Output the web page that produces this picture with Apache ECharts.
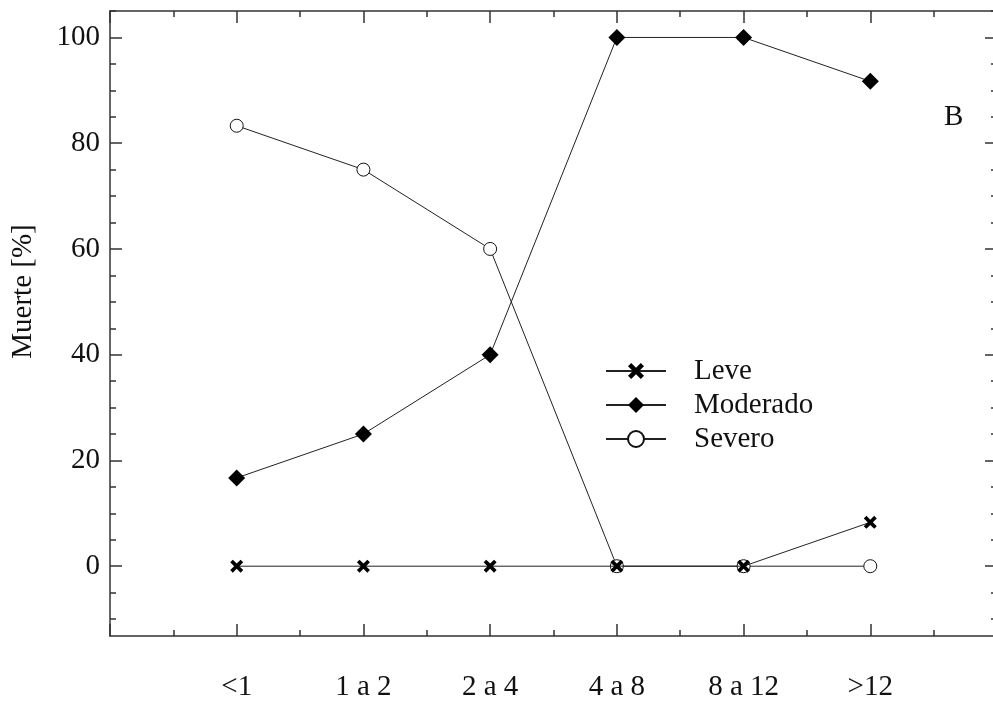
<!DOCTYPE html>
<html>
<head>
<meta charset="utf-8">
<script src="https://cdn.jsdelivr.net/npm/echarts@6/dist/echarts.min.js"></script>
<style>html,body{margin:0;padding:0;background:#fff}#c{width:993px;height:704px}</style>
</head>
<body>
<div id="c"></div>
<script>
const categories = ['<1', '1 a 2', '2 a 4', '4 a 8', '8 a 12', '>12'];
const leve = [0, 0, 0, 0, 0, 8.3];
const moderado = [16.7, 25, 40, 100, 100, 91.7];
const severo = [83.3, 75, 60, 0, 0, 0];
const yMajorTicks = [0, 20, 40, 60, 80, 100];
const yMinorTicks = [-10, -5, 5, 10, 15, 25, 30, 35, 45, 50, 55, 65, 70, 75, 85, 90, 95, 105];

const FONT = 'Liberation Serif';
const AX = '#333';
const crossPath = 'path://M0,2 L2,0 L5,3 L8,0 L10,2 L7,5 L10,8 L8,10 L5,7 L2,10 L0,8 L3,5 Z';

function pts(arr) { return arr.map((v, i) => [i, v]); }

const chart = echarts.init(document.getElementById('c'));
const yRange = { min: -13.2, max: 105 };
function yAx(pos, ticks, len, labels, line) {
  return {
    type: 'value', position: pos, min: yRange.min, max: yRange.max,
    axisLine: { show: line, onZero: false, lineStyle: { color: AX, width: 1.5 } },
    axisTick: { show: true, inside: true, length: len, customValues: ticks, lineStyle: { color: AX, width: 1.5 } },
    axisLabel: labels ? { show: true, customValues: ticks, fontFamily: FONT, fontSize: 29, color: '#111', margin: 10 } : { show: false },
    splitLine: { show: false }
  };
}
const yAxes = [
  Object.assign(yAx('left', yMajorTicks, 12, true, true), {
    name: 'Muerte [%]', nameLocation: 'middle', nameGap: 72, nameRotate: 90,
    nameTextStyle: { fontFamily: FONT, fontSize: 29, color: '#111', padding: [0, 0, 0, 64] }
  }),
  yAx('left', yMinorTicks, 6, false, false),
  yAx('right', yMajorTicks, 12, false, true),
  yAx('right', yMinorTicks, 6, false, false)
];

function xAx(pos, labels) {
  return {
    type: 'value', position: pos, min: -1, max: 6, interval: 1,
    axisLine: { show: true, onZero: false, lineStyle: { color: AX, width: 1.5 } },
    axisTick: { show: true, inside: true, length: 12, lineStyle: { color: AX, width: 1.5 } },
    minorTick: { show: true, splitNumber: 2, length: 6, lineStyle: { color: AX, width: 1.5 } },
    axisLabel: labels ? {
      show: true, fontFamily: FONT, fontSize: 29, color: '#111', margin: 37,
      formatter: v => (v >= 0 && v < categories.length && Number.isInteger(v)) ? categories[v] : ''
    } : { show: false },
    splitLine: { show: false }, minorSplitLine: { show: false }
  };
}

const lineStyle = { color: '#222', width: 1 };
chart.setOption({
  animation: false,
  backgroundColor: '#fff',
  grid: { left: 110, top: 11, width: 887, height: 625, containLabel: false, outerBoundsMode: 'none' },
  title: { text: 'B', left: 939, top: 98, textStyle: { fontFamily: FONT, fontSize: 29, fontWeight: 'normal', color: '#111' } },
  legend: {
    orient: 'vertical', left: 600, top: 351, itemWidth: 60, itemHeight: 20, itemGap: 4,
    data: ['Leve', 'Moderado', 'Severo'],
    textStyle: { fontFamily: FONT, fontSize: 29, color: '#111', lineHeight: 30, padding: [0, 0, 0, 23] }
  },
  xAxis: [xAx('bottom', true), xAx('top', false)],
  yAxis: yAxes,
  series: [
    { name: 'Severo', type: 'line', data: pts(severo), symbol: 'circle', symbolSize: 13,
      itemStyle: { color: '#fff', borderColor: '#111', borderWidth: 1 }, lineStyle: lineStyle, z: 2 },
    { name: 'Moderado', type: 'line', data: pts(moderado), symbol: 'diamond', symbolSize: [17, 17],
      itemStyle: { color: '#000', borderColor: '#000', borderWidth: 0 }, lineStyle: lineStyle, z: 3 },
    { name: 'Leve', type: 'line', data: pts(leve), symbol: crossPath, symbolSize: 13,
      itemStyle: { color: '#000', borderWidth: 0 }, lineStyle: lineStyle, z: 4 }
  ]
});
</script>
</body>
</html>
